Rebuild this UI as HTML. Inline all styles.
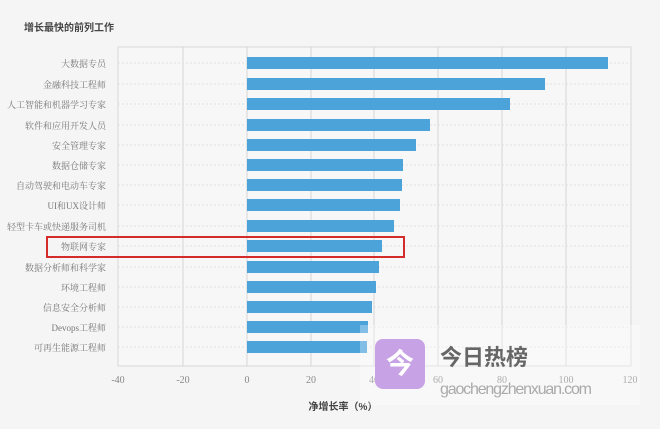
<!DOCTYPE html>
<html><head><meta charset="utf-8"><style>
body{margin:0;width:660px;height:424px;background:#f5f5f5;overflow:hidden;font-family:"Liberation Serif","Noto Serif CJK SC",serif;}
</style></head><body>
<svg width="660" height="424" xmlns="http://www.w3.org/2000/svg">
<rect width="660" height="424" fill="#f5f5f5"/>
<text x="24" y="31" font-size="10" font-weight="bold" fill="#444" font-family="Liberation Sans,Noto Sans CJK SC,sans-serif">增长最快的前列工作</text>
<rect x="118" y="47" width="513" height="319" fill="#f7f7f7" stroke="#d8d8d8"/>
<g stroke="#d4d4d4" stroke-width="1">
<line x1="183" y1="47" x2="183" y2="366"/><line x1="247" y1="47" x2="247" y2="366"/>
<line x1="311" y1="47" x2="311" y2="366"/><line x1="374" y1="47" x2="374" y2="366"/>
<line x1="438" y1="47" x2="438" y2="366"/><line x1="502" y1="47" x2="502" y2="366"/>
<line x1="566" y1="47" x2="566" y2="366"/>
</g>
<g stroke="#e2e2e2" stroke-dasharray="2,2">
<line x1="118" x2="631" y1="63" y2="63"/><line x1="118" x2="631" y1="84" y2="84"/><line x1="118" x2="631" y1="104" y2="104"/><line x1="118" x2="631" y1="125" y2="125"/><line x1="118" x2="631" y1="145" y2="145"/><line x1="118" x2="631" y1="165" y2="165"/><line x1="118" x2="631" y1="185" y2="185"/><line x1="118" x2="631" y1="205" y2="205"/><line x1="118" x2="631" y1="226" y2="226"/><line x1="118" x2="631" y1="246" y2="246"/><line x1="118" x2="631" y1="267" y2="267"/><line x1="118" x2="631" y1="287" y2="287"/><line x1="118" x2="631" y1="307" y2="307"/><line x1="118" x2="631" y1="327" y2="327"/><line x1="118" x2="631" y1="347" y2="347"/>
</g>
<g fill="#4ca3da">
<rect x="247" y="57" width="361" height="12"/><rect x="247" y="78" width="298" height="12"/><rect x="247" y="98" width="263" height="12"/><rect x="247" y="119" width="183" height="12"/><rect x="247" y="139" width="169" height="12"/><rect x="247" y="159" width="156" height="12"/><rect x="247" y="179" width="155" height="12"/><rect x="247" y="199" width="153" height="12"/><rect x="247" y="220" width="147" height="12"/><rect x="247" y="240" width="135" height="12"/><rect x="247" y="261" width="132" height="12"/><rect x="247" y="281" width="129" height="12"/><rect x="247" y="301" width="125" height="12"/><rect x="247" y="321" width="121" height="12"/><rect x="247" y="341" width="120" height="12"/>
</g>
<g font-size="9" fill="#777" text-anchor="end">
<text x="106" y="67">大数据专员</text><text x="106" y="88">金融科技工程师</text><text x="106" y="108">人工智能和机器学习专家</text><text x="106" y="129">软件和应用开发人员</text><text x="106" y="149">安全管理专家</text><text x="106" y="169">数据仓储专家</text><text x="106" y="189">自动驾驶和电动车专家</text><text x="106" y="209">UI和UX设计师</text><text x="106" y="230">轻型卡车或快递服务司机</text><text x="106" y="250">物联网专家</text><text x="106" y="271">数据分析师和科学家</text><text x="106" y="291">环境工程师</text><text x="106" y="311">信息安全分析师</text><text x="106" y="331">Devops工程师</text><text x="106" y="351">可再生能源工程师</text>
</g>
<rect x="47" y="237" width="357" height="20" fill="none" stroke="#d42b2b" stroke-width="2"/>
<g font-size="10" fill="#888" text-anchor="middle">
<text x="118" y="383">-40</text><text x="183" y="383">-20</text><text x="247" y="383">0</text><text x="311" y="383">20</text><text x="374" y="383">40</text><text x="438" y="383">60</text><text x="502" y="383">80</text><text x="566" y="383">100</text><text x="630" y="383">120</text>
</g>
<text x="343" y="410" font-size="10" font-weight="bold" fill="#444" text-anchor="middle" font-family="Liberation Sans,Noto Sans CJK SC,sans-serif">净增长率（%）</text>
<rect x="360" y="325" width="280" height="80" fill="#ffffff" opacity="0.3"/>
<rect x="375" y="339" width="50" height="50" rx="8" fill="#c7a3e6"/>
<text x="400" y="373" font-size="28" font-weight="bold" fill="#fff" text-anchor="middle" font-family="Noto Sans CJK SC,sans-serif">今</text>
<text x="440" y="365" font-size="22" font-weight="bold" fill="#666" font-family="Noto Sans CJK SC,sans-serif">今日热榜</text>
<text x="440" y="394" font-size="16" fill="#aaa" font-family="Liberation Sans,sans-serif" textLength="152">gaochengzhenxuan.com</text>
</svg>
</body></html>
